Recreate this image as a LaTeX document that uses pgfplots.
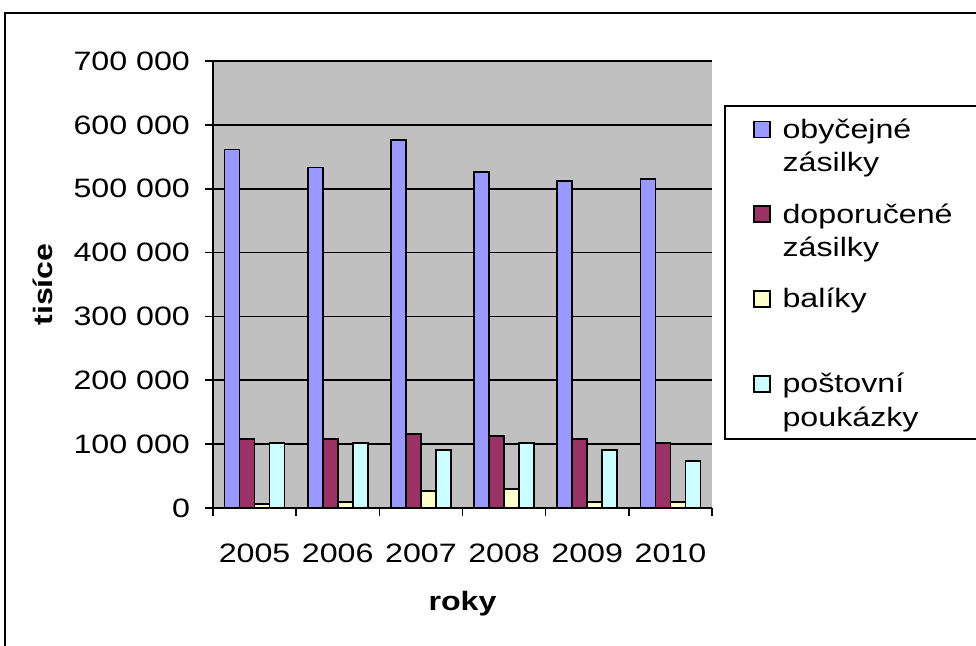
\documentclass[border=0pt]{standalone}
\usepackage{pgfplots}
\pgfplotsset{compat=1.18}
\usepackage{fontspec}
\setmainfont[FakeStretch=1.21]{Liberation Sans}
\definecolor{cblue}{HTML}{9999FF}
\definecolor{cred}{HTML}{993366}
\definecolor{cyel}{HTML}{FFFFCC}
\definecolor{ccyan}{HTML}{CCFFFF}
\definecolor{plotgray}{HTML}{C0C0C0}
\newcommand{\gap}{\rule{0pt}{20.2pt}}
\begin{document}
\begin{tikzpicture}[font=\fontsize{13.3pt}{16pt}\selectfont]
\path[use as bounding box] (0pt,0pt) rectangle (488pt,323pt);
\draw[line width=1pt] (2.5pt,-5pt) rectangle (495pt,316.5pt);
\begin{axis}[
  at={(106.5pt,69pt)}, anchor=south west,
  scale only axis, width=249.5pt, height=223.5pt,
  axis background/.style={fill=plotgray},
  axis x line*=bottom, axis y line*=left,
  axis line style={black, line width=0.8pt},
  ybar=0pt, bar width=7.5pt,
  xmin=-0.5, xmax=5.5, ymin=0, ymax=700000,
  xtick={0,...,5}, xticklabels={2005,2006,2007,2008,2009,2010},
  major x tick style={draw=none},
  minor xtick={-0.5,0.5,...,5.5},
  minor x tick style={black, line width=0.8pt},
  ytick={0,100000,...,700000},
  y tick style={black, line width=0.8pt},
  tick align=outside, major tick length=4pt, minor tick length=4pt,
  ymajorgrids, grid style={black, line width=0.8pt},
  scaled y ticks=false,
  /pgf/number format/assume math mode=true,
  yticklabel style={/pgf/number format/fixed, /pgf/number format/1000 sep={\ }, xshift=-4pt},
  xticklabel style={anchor=base, yshift=-23.5pt},
  xlabel={\textbf{roky}}, ylabel={\textbf{tisíce}},
  xlabel style={at={(0.5,-0.215)}, anchor=center},
  ylabel style={at={(-0.34,0.5)}, anchor=center},
  legend style={at={(1.024,0.9016)}, anchor=north west, draw=black, line width=1pt,
    inner xsep=14pt, inner ysep=3pt, row sep=0pt, column sep=4pt,
    cells={anchor=base west, inner sep=0pt}},
  legend image code/.code={\draw[#1, line width=0.8pt] (0pt,0.5pt) rectangle (8pt,8.5pt);},
  every axis plot/.append style={draw=black, line width=0.9pt},
]
\addplot[fill=cblue] coordinates {(0,561500) (1,533300) (2,575700) (3,525900) (4,511800) (5,515400)};
\addlegendentry{\strut obyčejné}
\addlegendimage{empty legend}
\addlegendentry{\strut zásilky}
\addplot[fill=cred] coordinates {(0,108300) (1,108300) (2,115700) (3,112500) (4,108300) (5,101500)};
\addlegendentry{\gap\strut doporučené}
\addlegendimage{empty legend}
\addlegendentry{\strut zásilky}
\addplot[fill=cyel] coordinates {(0,6300) (1,10000) (2,27000) (3,30000) (4,10000) (5,10000)};
\addlegendentry{\gap\strut balíky}
\addlegendimage{empty legend}
\addlegendentry{\strut}
\addplot[fill=ccyan] coordinates {(0,101500) (1,101500) (2,90500) (3,101500) (4,90500) (5,73000)};
\addlegendentry{\gap\strut poštovní}
\addlegendimage{empty legend}
\addlegendentry{\strut poukázky}
\end{axis}
\end{tikzpicture}
\end{document}
